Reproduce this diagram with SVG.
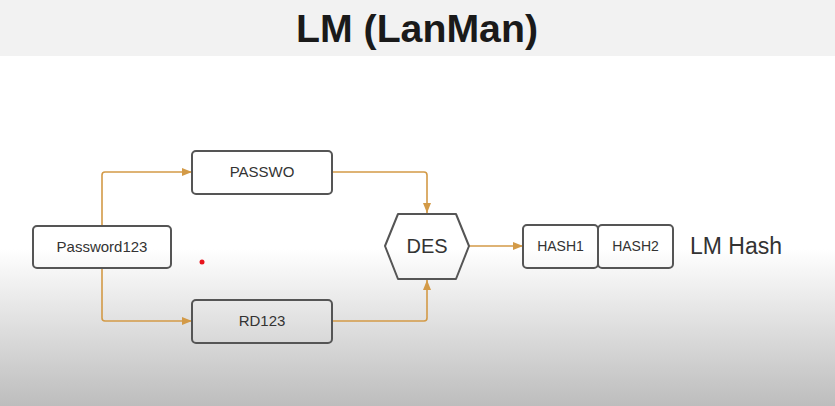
<svg xmlns="http://www.w3.org/2000/svg" width="835" height="406" viewBox="0 0 835 406">
<defs>
<linearGradient id="bg" x1="0" y1="56" x2="0" y2="406" gradientUnits="userSpaceOnUse">
<stop offset="0" stop-color="#ffffff"/>
<stop offset="0.55" stop-color="#ffffff"/>
<stop offset="0.75" stop-color="#e2e2e2"/>
<stop offset="1" stop-color="#bdbdbd"/>
</linearGradient>
<marker id="arr" viewBox="0 0 10 10" refX="10" refY="5" markerWidth="10" markerHeight="10" markerUnits="userSpaceOnUse" orient="auto">
<path d="M0,1 L10,5 L0,9 Z" fill="#d39a47"/>
</marker>
<style>
.box{fill:none;stroke:#555555;stroke-width:2;}
.lbl{font-family:"Liberation Sans",Arial,sans-serif;font-size:15px;fill:#333333;text-anchor:middle;}
.con{fill:none;stroke:#d39a47;stroke-width:1.6;stroke-linejoin:round;}
</style>
</defs>
<rect x="0" y="0" width="835" height="406" fill="url(#bg)"/>
<rect x="0" y="0" width="835" height="56" fill="#f2f2f2"/>
<text x="417" y="42" font-family="'Liberation Sans',Arial,sans-serif" font-weight="bold" font-size="38" fill="#1a1a1a" text-anchor="middle" textLength="242" lengthAdjust="spacingAndGlyphs">LM (LanMan)</text>
<circle cx="202" cy="262" r="2.5" fill="#e8141c"/>
<g id="connectors">
<path class="con" d="M102,226 V175 Q102,172 105,172 H192" marker-end="url(#arr)"/>
<path class="con" d="M102,268 V318 Q102,321 105,321 H192" marker-end="url(#arr)"/>
<path class="con" d="M332,172 H424 Q427,172 427,175 V213" marker-end="url(#arr)"/>
<path class="con" d="M332,321 H424 Q427,321 427,318 V280" marker-end="url(#arr)"/>
<path class="con" d="M469,246 H523" marker-end="url(#arr)"/>
</g>
<g id="password123">
<rect class="box" x="33" y="226" width="138" height="42" rx="4"/>
<text class="lbl" x="102" y="252">Password123</text>
</g>
<g id="passwo">
<rect class="box" x="192" y="151" width="140" height="43" rx="4"/>
<text class="lbl" x="262" y="177">PASSWO</text>
</g>
<g id="rd123">
<rect class="box" x="192" y="300" width="140" height="43" rx="4"/>
<text class="lbl" x="262" y="326">RD123</text>
</g>
<g id="des">
<polygon class="box" stroke-linejoin="round" points="385,246 398,214 456,214 469,246 456,279 398,279"/>
<text class="lbl" x="427" y="253" style="font-size:20px">DES</text>
</g>
<g id="hash1">
<rect class="box" x="523" y="225" width="75" height="43" rx="4"/>
<text class="lbl" x="560.5" y="251" style="font-size:14px">HASH1</text>
</g>
<g id="hash2">
<rect class="box" x="598" y="225" width="75" height="43" rx="4"/>
<text class="lbl" x="635.5" y="251" style="font-size:14px">HASH2</text>
</g>
<g id="lmhash">
<text x="690" y="254" font-family="'Liberation Sans',Arial,sans-serif" font-size="23" fill="#333333">LM Hash</text>
</g>
</svg>
